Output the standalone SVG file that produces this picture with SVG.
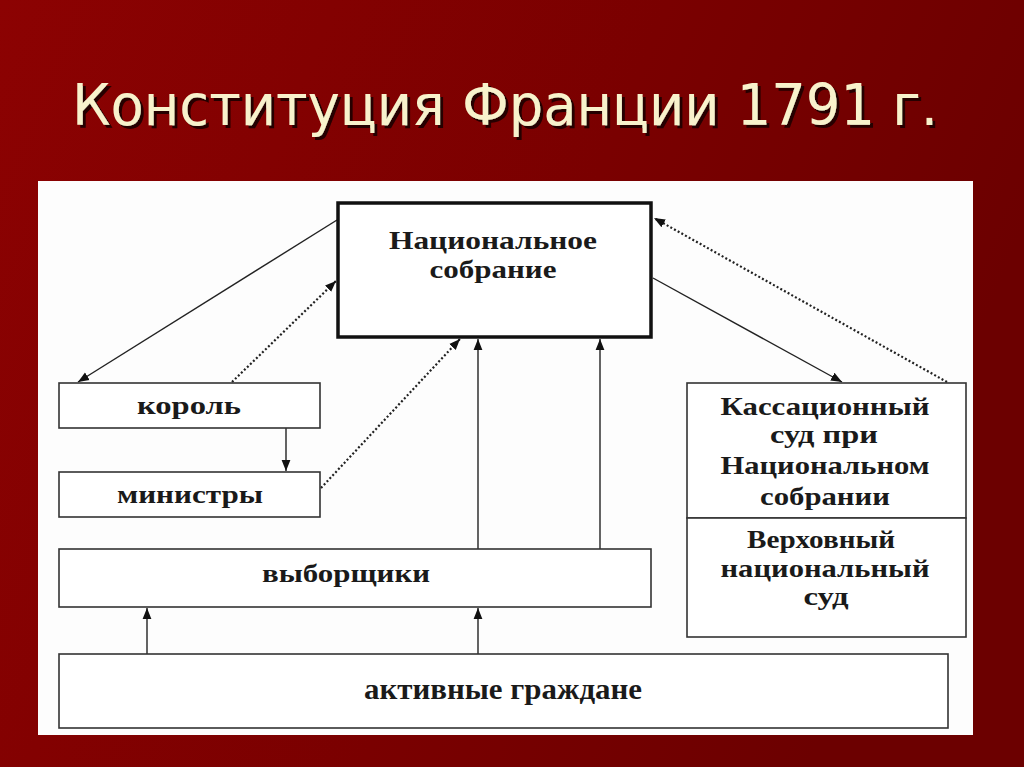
<svg xmlns="http://www.w3.org/2000/svg" width="1024" height="767" viewBox="0 0 1024 767">
<defs>
<linearGradient id="bg" x1="0" y1="0" x2="1" y2="0.3">
<stop offset="0" stop-color="#8c0202"/>
<stop offset="0.6" stop-color="#7a0000"/>
<stop offset="1" stop-color="#6c0000"/>
</linearGradient>
<filter id="shadow" x="-5%" y="-20%" width="110%" height="150%">
<feDropShadow dx="3" dy="3" stdDeviation="0.6" flood-color="#250000" flood-opacity="1"/>
</filter>
<marker id="ah" viewBox="0 0 10 10" refX="10" refY="5" markerWidth="11" markerHeight="11" markerUnits="userSpaceOnUse" orient="auto">
<path d="M0,1 L10,5 L0,9 Z" fill="#111"/>
</marker>
<style>
.box{fill:#fff;stroke:#333;stroke-width:1.6}
.main{fill:#fff;stroke:#111;stroke-width:3.5}
.t{font-family:"Liberation Serif","Times New Roman",serif;font-weight:bold;font-size:26px;fill:#1a1a1a;text-anchor:middle}
.big{font-size:30px}
.ln{stroke:#222;stroke-width:1.4;fill:none}
.dt{stroke:#222;stroke-width:2.2;fill:none;stroke-dasharray:2 2.2}
.title{font-family:"DejaVu Sans","Noto Sans",sans-serif;font-size:57px}
</style>
</defs>
<rect x="0" y="0" width="1024" height="767" fill="url(#bg)"/>
<text class="title" x="72" y="125" fill="#f8f2cc" filter="url(#shadow)" textLength="866" lengthAdjust="spacingAndGlyphs">Конституция Франции 1791 г.</text>
<rect x="38" y="181" width="935" height="554" fill="#fdfdfd"/>

<g id="connectors">
<line class="ln" x1="337" y1="220" x2="78" y2="382" marker-end="url(#ah)"/>
<line class="dt" x1="232" y1="382" x2="336" y2="281" marker-end="url(#ah)"/>
<line class="ln" x1="286" y1="428" x2="286" y2="471" marker-end="url(#ah)"/>
<line class="dt" x1="321" y1="488" x2="460" y2="339" marker-end="url(#ah)"/>
<line class="ln" x1="478" y1="549" x2="478" y2="339" marker-end="url(#ah)"/>
<line class="ln" x1="600" y1="549" x2="600" y2="339" marker-end="url(#ah)"/>
<line class="ln" x1="653" y1="278" x2="842" y2="382" marker-end="url(#ah)"/>
<line class="dt" x1="947" y1="382" x2="654" y2="218" marker-end="url(#ah)"/>
<line class="ln" x1="147" y1="654" x2="147" y2="608" marker-end="url(#ah)"/>
<line class="ln" x1="478" y1="654" x2="478" y2="608" marker-end="url(#ah)"/>
</g>

<g id="national-assembly">
<rect class="main" x="338" y="203" width="313" height="134"/>
<text class="t" x="493" y="249" textLength="208" lengthAdjust="spacingAndGlyphs">Национальное</text>
<text class="t" x="493" y="278" textLength="127" lengthAdjust="spacingAndGlyphs">собрание</text>
</g>
<g id="king">
<rect class="box" x="59" y="383" width="261" height="45"/>
<text class="t" x="189" y="414" textLength="104" lengthAdjust="spacingAndGlyphs">король</text>
</g>
<g id="ministers">
<rect class="box" x="59" y="472" width="261" height="45"/>
<text class="t" x="190" y="503" textLength="146" lengthAdjust="spacingAndGlyphs">министры</text>
</g>
<g id="electors">
<rect class="box" x="59" y="549" width="592" height="58"/>
<text class="t" x="346" y="582" textLength="168" lengthAdjust="spacingAndGlyphs">выборщики</text>
</g>
<g id="active-citizens">
<rect class="box" x="59" y="654" width="889" height="74"/>
<text class="t big" x="503" y="699" textLength="278" lengthAdjust="spacingAndGlyphs">активные граждане</text>
</g>
<g id="cassation-court">
<rect class="box" x="687" y="383" width="279" height="135"/>
<text class="t" x="825" y="415" textLength="209" lengthAdjust="spacingAndGlyphs">Кассационный</text>
<text class="t" x="824" y="443" textLength="108" lengthAdjust="spacingAndGlyphs">суд при</text>
<text class="t" x="825" y="474" textLength="209" lengthAdjust="spacingAndGlyphs">Национальном</text>
<text class="t" x="825" y="505" textLength="130" lengthAdjust="spacingAndGlyphs">собрании</text>
</g>
<g id="supreme-court">
<rect class="box" x="687" y="518" width="279" height="119"/>
<text class="t" x="821" y="548" textLength="148" lengthAdjust="spacingAndGlyphs">Верховный</text>
<text class="t" x="825" y="577" textLength="209" lengthAdjust="spacingAndGlyphs">национальный</text>
<text class="t" x="826" y="605" textLength="45" lengthAdjust="spacingAndGlyphs">суд</text>
</g>
</svg>
